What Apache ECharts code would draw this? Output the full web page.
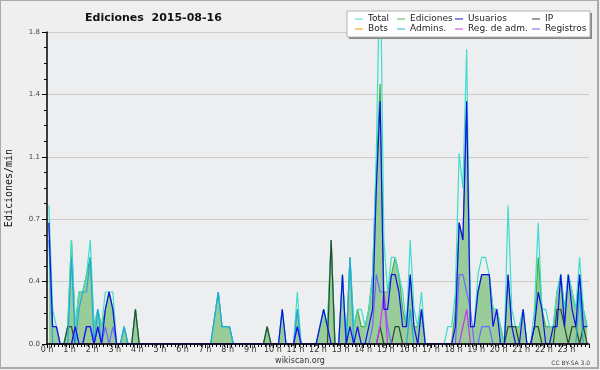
<!DOCTYPE html>
<html>
<head>
<meta charset="utf-8">
<script src="https://cdn.jsdelivr.net/npm/echarts@6/dist/echarts.min.js"></script>
<style>
html, body { margin: 0; padding: 0; background: #efefef; }
#chart { width: 600px; height: 370px; }
</style>
</head>
<body>
<div id="chart"></div>
<script>
// one value per 10-minute bin (edits per minute), 144 bins = 0 h .. 24 h
const total = [
  0.8, 0.2, 0.1, 0, 0, 0.1, 0.6, 0.1, 0.3, 0.3, 0.4, 0.6,
  0.1, 0.2, 0.1, 0.3, 0.3, 0.3, 0, 0, 0.1, 0, 0, 0.2,
  0, 0, 0, 0, 0, 0, 0, 0, 0, 0, 0, 0,
  0, 0, 0, 0, 0, 0, 0, 0, 0.15, 0.3, 0.1, 0.1,
  0.1, 0, 0, 0, 0, 0, 0, 0, 0, 0, 0.1, 0,
  0, 0, 0.2, 0, 0, 0, 0.3, 0, 0, 0, 0, 0,
  0.1, 0.2, 0.1, 0.6, 0, 0, 0.4, 0, 0.5, 0.1, 0.2, 0.2,
  0.1, 0.2, 0.4, 1.1, 2.3, 0.6, 0.3, 0.5, 0.5, 0.4, 0.3, 0.1,
  0.6, 0.2, 0.1, 0.3, 0, 0, 0, 0, 0, 0, 0.1, 0.1,
  0.3, 1.1, 0.9, 1.7, 0.1, 0.1, 0.4, 0.5, 0.5, 0.4, 0.2, 0.2,
  0.1, 0, 0.8, 0.2, 0.1, 0.1, 0.2, 0, 0, 0.2, 0.7, 0.2,
  0.2, 0.1, 0.1, 0.3, 0.4, 0.2, 0.4, 0.3, 0.2, 0.5, 0.2, 0.1
];
const ediciones = [
  0.7, 0.1, 0.1, 0, 0, 0.1, 0.6, 0.1, 0.3, 0.3, 0.4, 0.5,
  0.1, 0.2, 0.1, 0.2, 0.3, 0.2, 0, 0, 0.1, 0, 0, 0.2,
  0, 0, 0, 0, 0, 0, 0, 0, 0, 0, 0, 0,
  0, 0, 0, 0, 0, 0, 0, 0, 0.15, 0.3, 0.1, 0.1,
  0.1, 0, 0, 0, 0, 0, 0, 0, 0, 0, 0.1, 0,
  0, 0, 0.2, 0, 0, 0, 0.2, 0, 0, 0, 0, 0,
  0.1, 0.2, 0.1, 0.6, 0, 0, 0.4, 0, 0.5, 0.1, 0.2, 0.1,
  0.1, 0.2, 0.4, 1.0, 1.5, 0.3, 0.3, 0.4, 0.5, 0.4, 0.2, 0.1,
  0.4, 0.1, 0.1, 0.2, 0, 0, 0, 0, 0, 0, 0, 0,
  0.2, 0.7, 0.6, 1.4, 0.1, 0.1, 0.3, 0.4, 0.4, 0.4, 0.2, 0.2,
  0.1, 0, 0.4, 0.1, 0.1, 0.1, 0.2, 0, 0, 0.1, 0.5, 0.2,
  0.1, 0.1, 0.1, 0.3, 0.4, 0.2, 0.4, 0.3, 0.2, 0.4, 0.2, 0.1
];
const usuarios = [
  0.7, 0.1, 0.1, 0, 0, 0, 0, 0.1, 0, 0, 0.1, 0.1,
  0, 0.1, 0, 0.2, 0.3, 0.2, 0, 0, 0, 0, 0, 0,
  0, 0, 0, 0, 0, 0, 0, 0, 0, 0, 0, 0,
  0, 0, 0, 0, 0, 0, 0, 0, 0, 0, 0, 0,
  0, 0, 0, 0, 0, 0, 0, 0, 0, 0, 0, 0,
  0, 0, 0.2, 0, 0, 0, 0.1, 0, 0, 0, 0, 0,
  0.1, 0.2, 0.1, 0, 0, 0, 0.4, 0, 0.1, 0, 0.1, 0,
  0, 0.1, 0.2, 0.9, 1.4, 0.2, 0.2, 0.4, 0.4, 0.3, 0.1, 0.1,
  0.4, 0.1, 0, 0.2, 0, 0, 0, 0, 0, 0, 0, 0,
  0.1, 0.7, 0.6, 1.4, 0.1, 0.1, 0.3, 0.4, 0.4, 0.4, 0.1, 0.2,
  0, 0, 0.4, 0.1, 0, 0, 0.2, 0, 0, 0.1, 0.3, 0.2,
  0, 0, 0.1, 0.1, 0.4, 0.1, 0.4, 0.2, 0.1, 0.4, 0.1, 0.1
];
const ip = [
  0, 0, 0, 0, 0, 0.1, 0.1, 0, 0, 0, 0, 0,
  0, 0, 0, 0, 0, 0, 0, 0, 0, 0, 0, 0.2,
  0, 0, 0, 0, 0, 0, 0, 0, 0, 0, 0, 0,
  0, 0, 0, 0, 0, 0, 0, 0, 0, 0, 0, 0,
  0, 0, 0, 0, 0, 0, 0, 0, 0, 0, 0.1, 0,
  0, 0, 0, 0, 0, 0, 0, 0, 0, 0, 0, 0,
  0, 0, 0, 0.6, 0, 0, 0, 0, 0, 0, 0, 0,
  0, 0, 0, 0, 0.1, 0, 0, 0, 0.1, 0.1, 0, 0,
  0, 0, 0, 0, 0, 0, 0, 0, 0, 0, 0, 0,
  0, 0, 0, 0, 0, 0, 0, 0, 0, 0, 0, 0,
  0, 0, 0.1, 0.1, 0.1, 0, 0, 0, 0, 0.1, 0.1, 0,
  0, 0, 0, 0.2, 0.2, 0.1, 0, 0.1, 0.1, 0, 0.1, 0
];
const bots = new Array(144).fill(0);
const admins = [
  0.6, 0, 0, 0, 0, 0, 0.5, 0, 0.2, 0.3, 0.3, 0.5,
  0, 0.2, 0, 0, 0, 0, 0, 0, 0.1, 0, 0, 0,
  0, 0, 0, 0, 0, 0, 0, 0, 0, 0, 0, 0,
  0, 0, 0, 0, 0, 0, 0, 0, 0.15, 0.3, 0.1, 0.1,
  0.1, 0, 0, 0, 0, 0, 0, 0, 0, 0, 0, 0,
  0, 0, 0, 0, 0, 0, 0.2, 0, 0, 0, 0, 0,
  0, 0, 0, 0, 0, 0, 0, 0, 0.5, 0, 0, 0,
  0, 0, 0, 0, 0, 0, 0, 0, 0, 0, 0, 0,
  0.2, 0, 0, 0, 0, 0, 0, 0, 0, 0, 0, 0,
  0, 0, 0, 0, 0, 0, 0, 0, 0, 0, 0, 0,
  0, 0, 0, 0, 0, 0, 0, 0, 0, 0, 0, 0,
  0, 0, 0, 0, 0, 0, 0, 0, 0, 0.3, 0, 0
];
const regAdm = [
  0, 0, 0, 0, 0, 0, 0, 0, 0, 0, 0, 0,
  0, 0, 0, 0, 0, 0, 0, 0, 0, 0, 0, 0,
  0, 0, 0, 0, 0, 0, 0, 0, 0, 0, 0, 0,
  0, 0, 0, 0, 0, 0, 0, 0, 0, 0, 0, 0,
  0, 0, 0, 0, 0, 0, 0, 0, 0, 0, 0, 0,
  0, 0, 0, 0, 0, 0, 0, 0, 0, 0, 0, 0,
  0, 0, 0, 0, 0, 0, 0, 0, 0, 0, 0, 0,
  0, 0, 0, 0, 0.1, 0.3, 0, 0, 0, 0, 0, 0,
  0, 0, 0, 0, 0, 0, 0, 0, 0, 0, 0, 0,
  0, 0, 0.1, 0.2, 0, 0, 0, 0, 0, 0, 0, 0,
  0, 0, 0, 0, 0, 0, 0, 0, 0, 0, 0, 0,
  0, 0, 0, 0, 0, 0, 0, 0, 0, 0, 0, 0
];
const registros = [
  0, 0, 0, 0, 0, 0, 0, 0.1, 0, 0, 0.1, 0.1,
  0, 0.1, 0, 0.1, 0, 0.1, 0, 0, 0, 0, 0, 0,
  0, 0, 0, 0, 0, 0, 0, 0, 0, 0, 0, 0,
  0, 0, 0, 0, 0, 0, 0, 0, 0, 0, 0, 0,
  0, 0, 0, 0, 0, 0, 0, 0, 0, 0, 0, 0,
  0, 0, 0, 0, 0, 0, 0.1, 0, 0, 0, 0, 0,
  0, 0, 0, 0, 0, 0, 0, 0, 0, 0, 0, 0,
  0, 0, 0.1, 0.4, 0.3, 0.3, 0.1, 0, 0, 0, 0, 0,
  0, 0, 0, 0, 0, 0, 0, 0, 0, 0, 0, 0,
  0, 0.4, 0.4, 0.3, 0.2, 0, 0, 0.1, 0.1, 0.1, 0, 0,
  0, 0, 0, 0, 0, 0, 0, 0, 0, 0, 0, 0,
  0, 0, 0, 0, 0, 0, 0, 0, 0, 0, 0, 0
];

// bin centre in minutes
const pts = arr => arr.map((v, i) => [i * 10 + 5, v]);

const chart = echarts.init(document.getElementById('chart'));

const lineSeries = (name, data, color, width, z) => ({
  name: name,
  type: 'line',
  data: pts(data),
  symbol: 'none',
  z: z,
  itemStyle: { color: color },
  lineStyle: { color: color, width: width }
});

const legendCol = (left, names) => ({
  data: names,
  orient: 'vertical',
  left: left,
  top: 14,
  padding: 0,
  itemGap: 0,
  itemWidth: 8,
  itemHeight: 1,
  icon: 'rect',
  z: 10,
  textStyle: { fontFamily: 'DejaVu Sans', fontSize: 9, color: '#222', lineHeight: 10 }
});

chart.setOption({
  animation: false,
  backgroundColor: '#efefef',
  title: {
    text: 'Ediciones  2015-08-16',
    left: 85,
    top: 13,
    padding: 0,
    textStyle: { fontFamily: 'DejaVu Sans', fontWeight: 'bold', fontSize: 11, color: '#111' }
  },
  legend: [
    legendCol(355, ['Total', 'Bots']),
    legendCol(397, ['Ediciones', 'Admins.']),
    legendCol(455, ['Usuarios', 'Reg. de adm.']),
    legendCol(532, ['IP', 'Registros'])
  ],
  graphic: [
    { type: 'rect', z: 6, shape: { x: 0, y: 0, width: 598, height: 368 },
      style: { fill: 'none', stroke: '#aaaaaa', lineWidth: 2 } },
    { type: 'rect', z: 6, shape: { x: 349, y: 13, width: 243, height: 26 },
      style: { fill: '#888888' } },
    { type: 'rect', z: 7, shape: { x: 347, y: 11, width: 243, height: 26 },
      style: { fill: '#ffffff', stroke: '#b0b0b0', lineWidth: 1 } },
    { type: 'text', z: 7, left: 'center', top: 357,
      style: { text: 'wikiscan.org', font: '8px DejaVu Sans', fill: '#333' } },
    { type: 'text', z: 7, right: 10, top: 360,
      style: { text: 'CC BY-SA 3.0', font: '6px DejaVu Sans', fill: '#444' } }
  ],
  grid: {
    left: 47, right: 11, top: 32, bottom: 26,
    outerBoundsMode: 'none',
    show: true, backgroundColor: '#edeef0', borderWidth: 0
  },
  xAxis: {
    type: 'value',
    min: 0,
    max: 1440,
    interval: 60,
    z: 5,
    axisLine: { lineStyle: { color: '#000', width: 1.5 } },
    axisTick: { length: 4, lineStyle: { color: '#000' } },
    minorTick: { show: true, splitNumber: 6, length: 3, lineStyle: { color: '#000' } },
    splitLine: { show: false },
    axisLabel: {
      margin: 2,
      fontFamily: 'DejaVu Sans',
      fontSize: 8,
      color: '#333',
      formatter: v => (v < 1440 ? v / 60 + ' h' : '')
    }
  },
  yAxis: {
    type: 'value',
    min: 0,
    max: 1.8,
    interval: 0.36,
    name: 'Ediciones/min',
    nameLocation: 'middle',
    nameGap: 33,
    nameTextStyle: { fontFamily: 'DejaVu Sans Mono', fontSize: 10, color: '#111' },
    axisLine: { show: true, lineStyle: { color: '#000', width: 1.5 } },
    axisTick: { show: true, length: 5, lineStyle: { color: '#000' } },
    minorTick: { show: true, splitNumber: 4, length: 3, lineStyle: { color: '#000' } },
    splitLine: { lineStyle: { color: '#cccccc', width: 1 } },
    axisLabel: {
      margin: 7,
      fontFamily: 'DejaVu Sans',
      fontSize: 7,
      color: '#444',
      formatter: v => v.toFixed(1)
    }
  },
  series: [
    {
      name: 'Ediciones',
      type: 'line',
      data: pts(ediciones),
      symbol: 'none',
      z: 1,
      itemStyle: { color: '#44b044' },
      lineStyle: { color: '#44b044', width: 1.2 },
      areaStyle: { color: '#99cc99', opacity: 1 }
    },
    lineSeries('Total', total, '#40dccc', 1.2, 2),
    lineSeries('Bots', bots, '#ff9900', 1, 2),
    lineSeries('IP', ip, '#2a4a2a', 1.2, 3),
    lineSeries('Admins.', admins, '#22a8dd', 1.2, 3),
    lineSeries('Registros', registros, '#6a6aff', 1.2, 3),
    lineSeries('Reg. de adm.', regAdm, '#cc33ee', 1.2, 3),
    lineSeries('Usuarios', usuarios, '#1010ee', 1.2, 4)
  ]
});
</script>
</body>
</html>
